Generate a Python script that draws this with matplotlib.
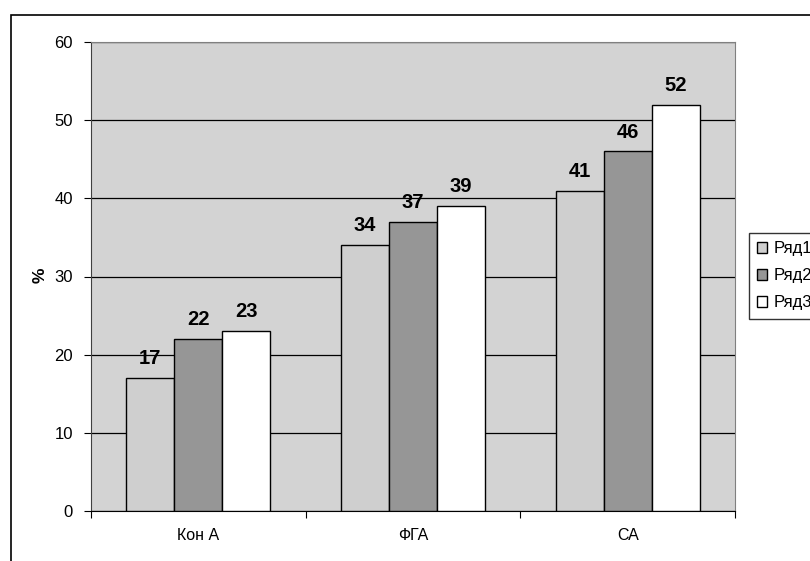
import matplotlib.pyplot as plt
import matplotlib.patches as patches
import numpy as np

plt.rcParams['font.family'] = ['Liberation Sans', 'DejaVu Sans']

categories = ["Кон А", "ФГА", "СА"]
series_names = ["Ряд1", "Ряд2", "Ряд3"]
ryad1 = [17, 34, 41]
ryad2 = [22, 37, 46]
ryad3 = [23, 39, 52]
values = [ryad1, ryad2, ryad3]
colors = ["#CFCFCF", "#969696", "#FFFFFF"]

fig = plt.figure(figsize=(8.1, 5.61), dpi=100)

# outer chart border (runs off right and bottom edges)
fig.patches.append(patches.Rectangle((11 / 810, -0.05), 1.2, 1 - 15 / 561 + 0.05,
                                     transform=fig.transFigure, fill=False,
                                     edgecolor="black", linewidth=1.2))

ax = fig.add_axes([91 / 810, 1 - 511 / 561, 644 / 810, 469 / 561])
ax.set_facecolor("#D3D3D3")

x = np.arange(len(categories))
bw = 0.224
for i, (vals, c, name) in enumerate(zip(values, colors, series_names)):
    pos = x + (i - 1) * bw
    ax.bar(pos, vals, width=bw, color=c, edgecolor="black", linewidth=1, label=name, zorder=3)
    for p, v in zip(pos, vals):
        ax.annotate(str(v), (p, v), xytext=(0, 10), textcoords="offset points",
                    ha="center", va="baseline", fontsize=14.5, fontweight="bold", zorder=4)

ax.set_xlim(-0.5, 2.5)
ax.set_ylim(0, 60)
ax.set_yticks(range(0, 61, 10))
ax.yaxis.grid(True, color="black", linewidth=0.9, zorder=1)
ax.set_axisbelow(True)

ax.set_xticks([-0.5, 0.5, 1.5, 2.5])
ax.set_xticklabels([])
ax.set_xticks(x, minor=True)
ax.set_xticklabels(categories, minor=True, fontsize=11.5)
ax.tick_params(axis="x", which="minor", length=0, pad=12)
ax.tick_params(axis="x", which="major", direction="out", length=5, color="black")
ax.tick_params(axis="y", direction="out", length=5, labelsize=12, pad=8)

for s in ["top", "right"]:
    ax.spines[s].set_color("#808080")
ax.spines["left"].set_color("#404040")
ax.spines["bottom"].set_color("black")

fig.text(40 / 810, 1 - 275 / 561, "%", rotation=90, fontsize=12.5, fontweight="bold",
         ha="center", va="center")

# legend intentionally runs past the right edge, as in the original
leg = fig.legend(loc="upper left", bbox_to_anchor=(749 / 810, 1 - 233 / 561),
                 fontsize=12, frameon=True, fancybox=False, edgecolor="black",
                 handlelength=0.6, handleheight=0.6, handletextpad=0.4,
                 borderpad=0.5, labelspacing=0.72, borderaxespad=0)
leg.get_frame().set_linewidth(1)

fig.savefig("out.png", dpi=100)
